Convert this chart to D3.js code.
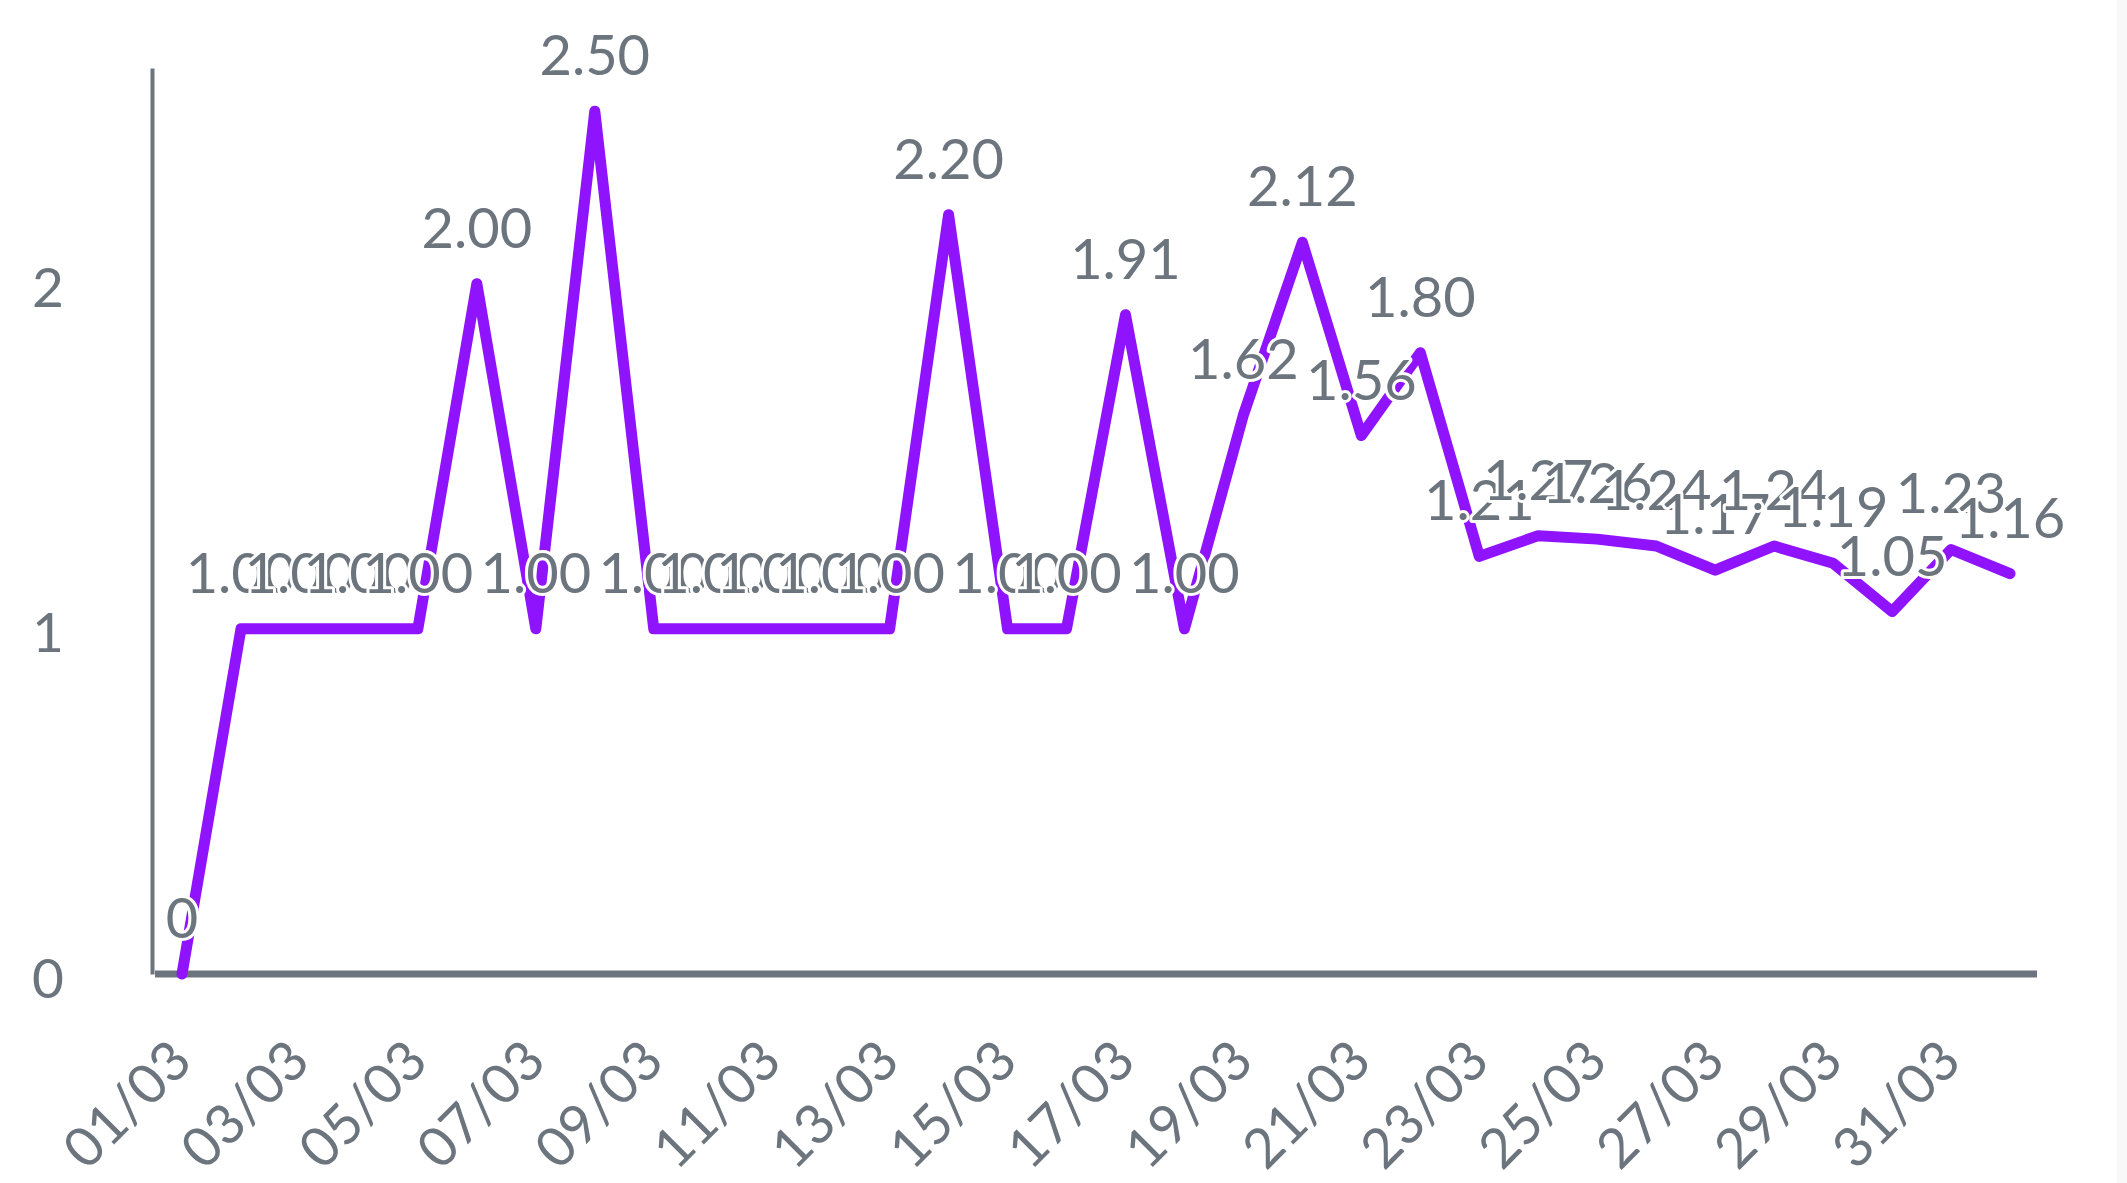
<!DOCTYPE html>
<html>
<head>
<meta charset="utf-8">
<script src="https://cdn.jsdelivr.net/npm/d3@7"></script>
<style>
  body { margin: 0; background: #fff; }
  text { font-family: Lato, "Noto Sans", sans-serif; fill: #6c757d; }
</style>
</head>
<body>
<div id="vis"></div>
<script>
// daily values, March
const days = ['01/03','02/03','03/03','04/03','05/03','06/03','07/03','08/03','09/03','10/03',
  '11/03','12/03','13/03','14/03','15/03','16/03','17/03','18/03','19/03','20/03',
  '21/03','22/03','23/03','24/03','25/03','26/03','27/03','28/03','29/03','30/03','31/03','01/04'];
const values = [0, 1, 1, 1, 1, 2, 1, 2.5, 1, 1,
  1, 1, 1, 2.2, 1, 1, 1.91, 1, 1.62, 2.12,
  1.56, 1.8, 1.21, 1.27, 1.26, 1.24, 1.17, 1.24, 1.19, 1.05, 1.23, 1.16];
const yTicks = [0, 1, 2];

const width = 2127, height = 1183;
const margin = {top: 68, right: 117, bottom: 209, left: 152};
const grey = '#6c757d';
const purple = '#9013fe';

const data = days.map((d, i) => ({day: d, value: values[i]}));

const svg = d3.select('#vis').append('svg')
    .attr('width', width)
    .attr('height', height);

// faint strip on the right edge
svg.append('rect')
    .attr('x', width - 10).attr('y', 0)
    .attr('width', 10).attr('height', height)
    .attr('fill', '#f8f8f8');

const x = d3.scalePoint()
    .domain(days)
    .range([182, 2010]);

const y = d3.scaleLinear()
    .domain([0, d3.max(values) * 1.05])
    .range([height - margin.bottom, margin.top]);

// y axis
const yAxis = svg.append('g')
    .attr('transform', `translate(${margin.left},0)`)
    .call(d3.axisLeft(y).tickValues(yTicks).tickSize(0).tickPadding(88).tickFormat(d3.format('d')));
yAxis.select('.domain').attr('stroke', grey).attr('stroke-width', 4);
yAxis.selectAll('text')
    .style('font-size', '55px')
    .style('font-family', 'Lato')
    .attr('dy', '0.42em')
    .attr('fill', grey);

// x axis
const xAxis = svg.append('g')
    .attr('transform', `translate(0,${y(0)})`)
    .call(d3.axisBottom(x).tickValues(days.filter((d, i) => i % 2 === 0)).tickSize(0).tickPadding(0));
xAxis.select('.domain').remove();
xAxis.append('line')
    .attr('x1', margin.left + 3).attr('x2', width - margin.right + 27)
    .attr('y1', 0).attr('y2', 0)
    .attr('stroke', grey).attr('stroke-width', 7);
xAxis.selectAll('.tick text')
    .style('font-size', '55px')
    .style('font-family', 'Lato')
    .attr('fill', grey)
    .attr('text-anchor', 'end')
    .attr('dy', 0)
    .attr('transform', 'translate(12,90) rotate(-45)');

// line
const line = d3.line()
    .x(d => x(d.day))
    .y(d => y(d.value));

svg.append('path')
    .datum(data)
    .attr('fill', 'none')
    .attr('stroke', purple)
    .attr('stroke-width', 11)
    .attr('stroke-linejoin', 'round')
    .attr('stroke-linecap', 'round')
    .attr('d', line);

// value labels
svg.selectAll('.val')
    .data(data)
    .join('text')
    .attr('class', 'val')
    .attr('x', d => x(d.day))
    .attr('y', d => y(d.value) - 36)
    .attr('text-anchor', 'middle')
    .style('font-size', '56px')
    .style('paint-order', 'stroke')
    .attr('stroke', '#fff')
    .attr('stroke-width', 6)
    .attr('stroke-linejoin', 'round')
    .text(d => d.value === 0 ? '0' : d.value.toFixed(2));
</script>
</body>
</html>
